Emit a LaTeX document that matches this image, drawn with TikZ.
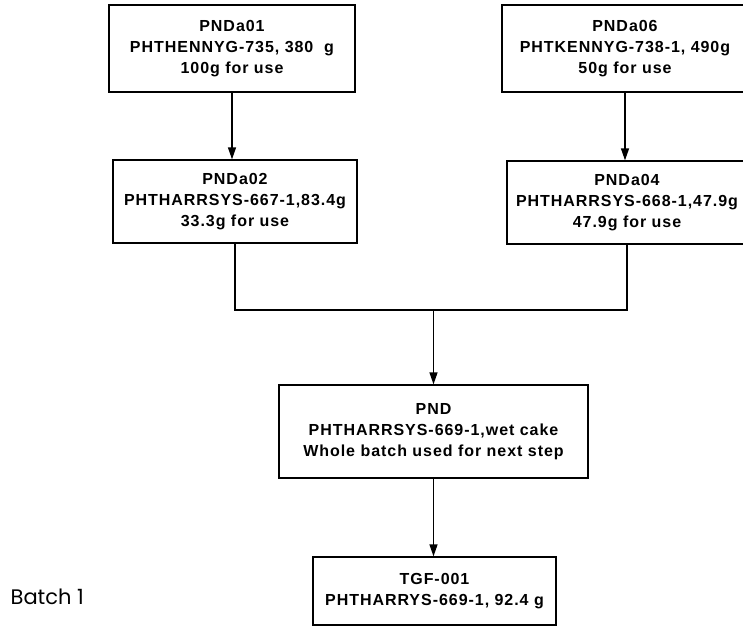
\documentclass[tikz,border=0pt]{standalone}
\usepackage{fontspec}
\setmainfont{Liberation Sans}
\newfontfamily\boxfont[LetterSpace=6]{Liberation Sans}
\newfontfamily\batchfont{Poppins}
\usetikzlibrary{arrows.meta,positioning}

\begin{document}
\begin{tikzpicture}[x=1pt,y=-1pt,line width=1.3pt,
  every node/.style={draw,inner sep=0pt,align=center,font=\boxfont\fontsize{16}{21}\selectfont\bfseries},
  flow/.style={-{Triangle[length=12pt,width=8pt]}}]
\useasboundingbox (0,0) rectangle (743,630);
\clip (0,0) rectangle (743,630);
\node(pnda01)[minimum width=246pt,minimum height=87pt] at (232,48.5){PNDa01\\PHTHENNYG-735, 380\ \ g\\100g for use};
\node(pnda06)[minimum width=246pt,minimum height=87pt] at (625,48.5){PNDa06\\PHTKENNYG-738-1, 490g\\50g for use};
\node(pnda02)[minimum width=244pt,minimum height=83pt] at (235,201.5){PNDa02\\PHTHARRSYS-667-1,83.4g\\33.3g for use};
\node(pnda04)[minimum width=240pt,minimum height=83pt] at (627,202.5){PNDa04\\PHTHARRSYS-668-1,47.9g\\47.9g for use};
\node(pnd)[minimum width=309pt,minimum height=93pt] at (433.5,431.5){PND\\PHTHARRSYS-669-1,wet cake\\Whole batch used for next step};
\node(tgf)[minimum width=243pt,minimum height=68pt] at (434.5,591){TGF-001\\PHTHARRYS-669-1, 92.4 g};
\node(batch)[draw=none,anchor=base west,font=\fontsize{21}{25}\batchfont] at (10,604){Batch 1};
\coordinate(join) at (0,310);
\draw[flow](pnda01.south)--(pnda01.south |- pnda02.north);
\draw[flow](pnda06.south)--(pnda06.south |- pnda04.north);
\draw(pnda02.south)--(pnda02.south |- join)--(pnda04.south |- join)--(pnda04.south);
\draw[flow](pnd.north |- join)--(pnd.north);
\draw[flow](pnd.south)--(pnd.south |- tgf.north);
\end{tikzpicture}
\end{document}
